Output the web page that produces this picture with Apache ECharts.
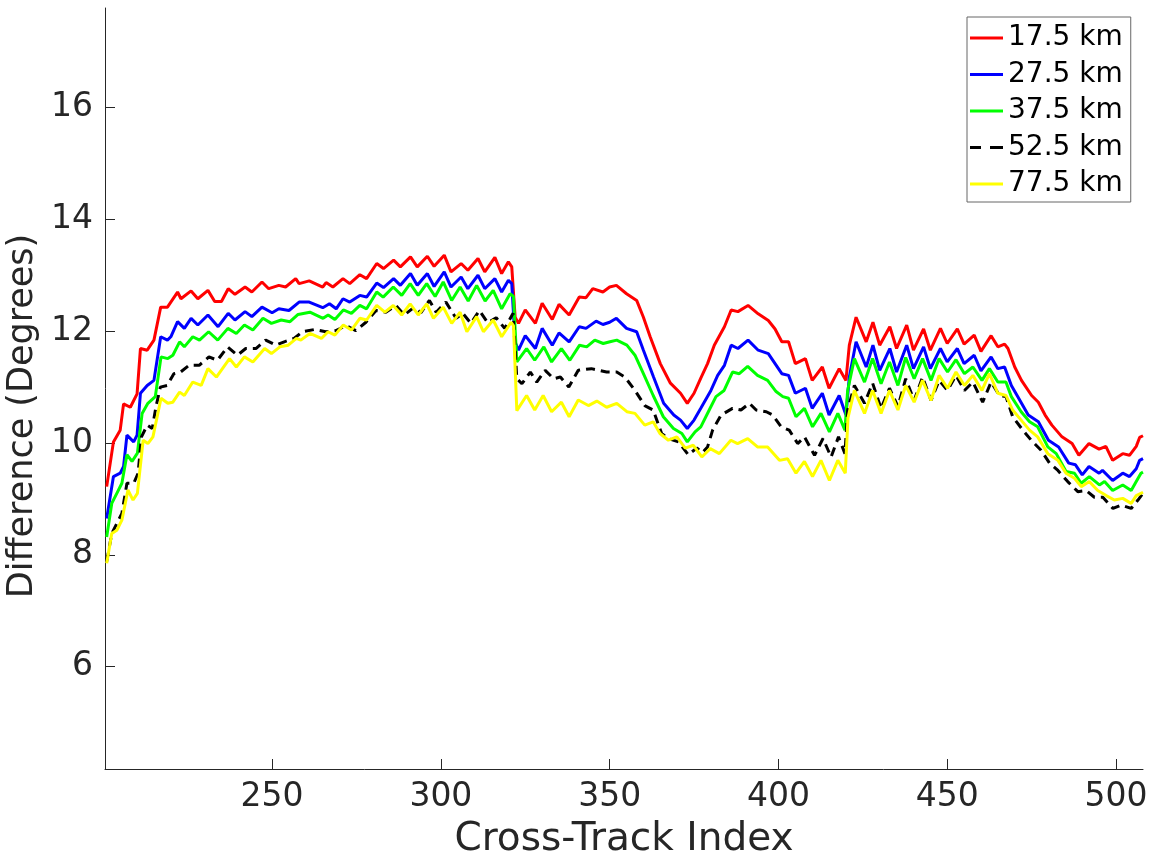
<!DOCTYPE html>
<html><head><meta charset="utf-8">
<script src="https://cdn.jsdelivr.net/npm/echarts@6/dist/echarts.min.js"></script>
<style>html,body{margin:0;padding:0;background:#fff}#c{width:1149px;height:858px}</style>
</head><body><div id="c"></div>
<script>
const seriesNames = ['17.5 km','27.5 km','37.5 km','52.5 km','77.5 km'];
const xTicks = [250,300,350,400,450,500];
const yTicks = [6,8,10,12,14,16];

const km17_5 = [[201,9.22],[203,10.02],[205,10.23],[206,10.70],[208,10.64],[210,10.88],[211,11.69],[213,11.66],[215,11.84],[217,12.43],[219,12.43],[220,12.52],[222,12.70],[223,12.58],[226,12.72],[228,12.58],[231,12.73],[233,12.53],[235,12.53],[237,12.76],[239,12.66],[242,12.79],[244,12.70],[247,12.88],[249,12.76],[252,12.82],[254,12.79],[257,12.94],[258,12.85],[261,12.90],[265,12.79],[266,12.87],[268,12.79],[271,12.94],[273,12.85],[276,13.01],[278,12.94],[281,13.21],[283,13.12],[286,13.27],[288,13.15],[291,13.33],[293,13.15],[296,13.34],[298,13.16],[301,13.36],[303,13.06],[306,13.21],[308,13.09],[311,13.30],[313,13.06],[316,13.32],[318,13.03],[320,13.24],[321,13.15],[322,12.25],[323,12.14],[325,12.38],[328,12.14],[330,12.50],[333,12.21],[335,12.48],[338,12.29],[341,12.61],[343,12.60],[345,12.76],[348,12.70],[350,12.79],[352,12.82],[355,12.67],[358,12.55],[360,12.25],[362,11.90],[365,11.42],[368,11.07],[371,10.89],[373,10.71],[375,10.89],[377,11.16],[379,11.42],[381,11.75],[384,12.08],[386,12.38],[388,12.35],[391,12.46],[394,12.31],[397,12.19],[399,12.04],[401,11.81],[403,11.81],[405,11.42],[408,11.51],[410,11.12],[413,11.36],[415,10.98],[418,11.33],[420,11.12],[421,11.75],[423,12.25],[426,11.81],[428,12.16],[430,11.75],[433,12.08],[435,11.69],[438,12.11],[440,11.66],[443,12.04],[445,11.66],[448,12.05],[450,11.78],[453,12.04],[455,11.77],[458,11.93],[460,11.64],[463,11.92],[465,11.72],[467,11.77],[468,11.69],[470,11.36],[472,11.12],[475,10.85],[477,10.73],[479,10.50],[481,10.32],[484,10.11],[487,9.99],[489,9.78],[492,9.99],[495,9.89],[497,9.94],[499,9.69],[502,9.81],[504,9.78],[506,9.94],[507,10.10],[508,10.13]];

const km27_5 = [[201,8.65],[203,9.40],[205,9.46],[206,9.58],[207,10.14],[209,10.02],[210,10.14],[211,10.89],[213,11.03],[215,11.12],[217,11.90],[219,11.84],[220,11.90],[222,12.17],[224,12.05],[226,12.23],[228,12.11],[231,12.29],[234,12.08],[237,12.32],[239,12.20],[242,12.35],[244,12.26],[247,12.43],[250,12.33],[252,12.40],[255,12.37],[258,12.52],[261,12.52],[265,12.42],[267,12.49],[269,12.40],[271,12.58],[273,12.52],[276,12.64],[278,12.61],[281,12.86],[283,12.78],[286,12.94],[288,12.82],[291,13.03],[293,12.82],[296,13.03],[298,12.80],[301,13.06],[303,12.79],[306,12.97],[308,12.76],[311,13.00],[313,12.76],[316,12.94],[318,12.70],[320,12.91],[321,12.85],[322,11.80],[323,11.66],[325,11.92],[328,11.69],[330,12.05],[333,11.75],[335,11.97],[338,11.81],[341,12.08],[343,12.05],[346,12.18],[348,12.12],[350,12.16],[352,12.23],[355,12.05],[358,11.99],[360,11.66],[363,11.18],[366,10.71],[369,10.50],[371,10.41],[373,10.26],[375,10.41],[377,10.62],[380,10.94],[382,11.21],[384,11.39],[386,11.75],[388,11.69],[391,11.84],[394,11.66],[397,11.60],[399,11.42],[401,11.24],[403,11.21],[405,10.89],[408,10.98],[410,10.62],[413,10.89],[415,10.50],[418,10.85],[420,10.50],[421,11.18],[423,11.81],[426,11.36],[428,11.75],[430,11.30],[433,11.69],[435,11.27],[438,11.75],[440,11.33],[443,11.72],[445,11.33],[448,11.69],[450,11.45],[453,11.69],[455,11.42],[458,11.57],[460,11.29],[463,11.54],[465,11.33],[467,11.36],[469,11.03],[471,10.82],[474,10.50],[477,10.38],[480,10.05],[483,9.93],[486,9.64],[488,9.61],[490,9.43],[492,9.58],[495,9.46],[496,9.51],[499,9.33],[502,9.46],[504,9.40],[506,9.54],[507,9.69],[508,9.72]];

const km37_5 = [[201,8.32],[202.5,8.92],[204,9.10],[205.5,9.28],[207,9.79],[208.5,9.67],[210.1,9.82],[211.5,10.53],[213.2,10.71],[215.4,10.83],[217.1,11.54],[219.1,11.51],[220.6,11.57],[222.6,11.81],[224,11.72],[226.5,11.90],[228.5,11.84],[231.2,11.99],[233.9,11.84],[236.9,12.05],[239.4,11.96],[241.8,12.11],[244.3,12.02],[247.3,12.23],[249.8,12.14],[252.7,12.20],[255.3,12.17],[257.7,12.30],[261.2,12.34],[265.1,12.23],[266.6,12.29],[268.6,12.21],[271.1,12.38],[273.5,12.32],[276,12.46],[278,12.40],[281,12.70],[282.9,12.61],[285.9,12.79],[288.4,12.64],[290.9,12.85],[293.3,12.64],[295.8,12.85],[298.3,12.62],[300.7,12.88],[303.2,12.55],[305.7,12.79],[308.1,12.54],[310.6,12.82],[313.1,12.54],[315.5,12.73],[318,12.40],[320.5,12.67],[321.5,12.62],[322.5,11.45],[325.4,11.69],[327.8,11.48],[330.5,11.72],[332.8,11.45],[335.7,11.69],[338.2,11.48],[341.1,11.75],[343.2,11.72],[345.6,11.84],[348.1,11.78],[350.1,11.81],[352.1,11.84],[355.1,11.75],[357.5,11.57],[360,11.24],[362.9,10.85],[365.9,10.47],[368.9,10.26],[371.4,10.17],[373,10.02],[375.3,10.20],[377,10.29],[379.5,10.59],[381.5,10.83],[383.9,10.94],[386.4,11.27],[388.4,11.24],[390.9,11.37],[393.8,11.21],[396.8,11.12],[399.3,10.92],[401.3,10.83],[403,10.80],[405.2,10.47],[407.7,10.62],[410.1,10.29],[412.6,10.53],[415.1,10.20],[417.6,10.53],[419.7,10.23],[420.5,10.94],[422.5,11.51],[425.5,11.09],[427.9,11.51],[430.4,11.06],[432.9,11.45],[435.4,11.03],[437.7,11.53],[440.2,11.15],[442.7,11.51],[445.2,11.12],[447.6,11.51],[450.1,11.27],[452.6,11.49],[455.1,11.24],[457.6,11.36],[460.3,11.12],[462.5,11.33],[465,11.09],[467.4,11.09],[469,10.83],[471.9,10.56],[474.4,10.38],[476.8,10.29],[479.8,9.93],[482.3,9.81],[485.2,9.49],[487.7,9.46],[489.7,9.28],[492.1,9.40],[495.1,9.25],[496.6,9.31],[499,9.15],[502,9.25],[504.5,9.15],[506,9.31],[507.4,9.46],[508,9.48]];

const km52_5 = [[201,7.88],[202.5,8.38],[204,8.56],[205.5,8.74],[207,9.28],[209,9.28],[210.3,9.46],[211.3,10.11],[213,10.32],[214.5,10.26],[215.6,10.65],[216.9,11.00],[218.9,11.03],[220.9,11.24],[222.9,11.27],[225.4,11.39],[228.4,11.39],[231.3,11.54],[233.8,11.48],[236.8,11.72],[239.7,11.57],[242.2,11.69],[245.2,11.69],[248.1,11.84],[251.1,11.75],[253.6,11.81],[256.5,11.87],[259,11.99],[262.5,12.03],[265.9,11.99],[268.9,12.01],[271.9,12.10],[274.8,12.01],[277.8,12.16],[280.8,12.37],[283.7,12.34],[286.7,12.46],[289.2,12.29],[292.1,12.43],[294.1,12.33],[296.6,12.55],[298.6,12.34],[301.5,12.52],[304.5,12.23],[306.5,12.32],[308.9,12.14],[311.4,12.37],[313.9,12.15],[316.4,12.24],[318.9,12.05],[321.4,12.32],[322.5,11.15],[324,11.06],[326.5,11.27],[328.4,11.09],[330.9,11.30],[333.4,11.15],[335.4,11.18],[337.9,11.00],[340.7,11.30],[344.6,11.33],[349.1,11.27],[352.1,11.27],[354.5,11.18],[357.5,10.94],[360.4,10.67],[362.9,10.59],[365.4,10.17],[367.4,10.08],[370.4,10.02],[373.3,9.79],[375.8,9.91],[377.5,9.83],[379,9.93],[380.5,10.23],[383,10.50],[386.4,10.62],[388.9,10.59],[391.4,10.71],[393.4,10.59],[396.4,10.56],[398.3,10.50],[400.8,10.29],[403.2,10.23],[405.7,9.99],[407.7,10.11],[410.7,9.78],[413.2,10.08],[415.6,9.75],[417.8,10.11],[419.7,9.81],[420.5,10.59],[422.5,11.03],[425.5,10.71],[427.9,11.07],[430.4,10.62],[432.9,10.98],[435.4,10.65],[437.7,11.15],[440.2,10.76],[442.7,11.18],[445.2,10.76],[447.6,11.12],[450.1,10.94],[452.6,11.21],[455.1,10.94],[457.6,11.09],[460.5,10.73],[463,11.09],[465.5,10.85],[467.4,10.83],[469.4,10.47],[472.4,10.23],[474.9,10.05],[477.8,9.87],[480.3,9.64],[482.8,9.51],[485.7,9.31],[488.7,9.13],[491.2,9.15],[493.6,9.03],[496.1,9.03],[499.1,8.83],[501.5,8.89],[504.5,8.83],[506.5,8.98],[508,9.10]];

const km77_5 = [[201,7.85],[202.5,8.38],[204,8.44],[205.5,8.62],[207.3,9.16],[208.8,8.98],[210.1,9.10],[211.8,10.05],[213.2,9.99],[214.7,10.11],[217.1,10.80],[219.1,10.71],[220.6,10.73],[222.6,10.91],[224,10.85],[226.5,11.09],[229,11.03],[231,11.33],[233.5,11.18],[237.4,11.51],[239.4,11.36],[241.8,11.54],[244.3,11.45],[247.8,11.69],[249.8,11.60],[252.3,11.72],[254.8,11.75],[257.2,11.87],[258.5,11.84],[261.2,11.96],[264.6,11.87],[266.6,11.99],[268.6,11.93],[271.1,12.11],[273.5,12.02],[276,12.23],[278,12.20],[281,12.46],[283.4,12.34],[285.9,12.46],[288.4,12.29],[290.9,12.49],[293.3,12.29],[295.8,12.49],[297.8,12.23],[300.7,12.43],[303.2,12.14],[305.7,12.34],[307.7,11.99],[310.6,12.26],[312.6,11.99],[315.5,12.20],[318,11.90],[320.8,12.16],[321.5,12.10],[322.5,10.58],[325.4,10.85],[327.8,10.59],[330.3,10.85],[332.8,10.56],[335.7,10.73],[338,10.47],[340.7,10.77],[343.7,10.67],[346.2,10.75],[349.1,10.64],[352.1,10.71],[355.1,10.56],[357.5,10.53],[360.4,10.32],[362.9,10.38],[364.9,10.17],[367.4,10.05],[369.9,10.11],[372.4,9.91],[374.8,9.96],[377.3,9.75],[379.8,9.90],[382.5,9.81],[385.9,10.05],[387.9,9.99],[390.9,10.08],[393.8,9.93],[396.8,9.93],[400.3,9.69],[402.7,9.72],[405.2,9.46],[407.7,9.67],[410.1,9.40],[412.6,9.69],[415.1,9.33],[417.6,9.69],[419.8,9.46],[420.6,10.45],[422.5,10.94],[425.5,10.53],[427.9,10.94],[430.4,10.53],[432.9,10.94],[435.4,10.59],[437.7,11.03],[440.2,10.73],[442.7,11.12],[445.2,10.76],[447.6,11.21],[450.1,10.98],[452.6,11.27],[455.1,11.03],[457.6,11.21],[460.3,10.94],[462.5,11.24],[465,10.89],[467.4,10.85],[469.4,10.59],[471.9,10.41],[474.4,10.23],[476.8,10.11],[479.8,9.81],[482.8,9.69],[485.2,9.46],[487.7,9.37],[489.7,9.22],[492.1,9.31],[494.6,9.15],[497.1,9.06],[499.5,8.98],[502,9.01],[504.5,8.92],[506,9.06],[508,9.12]];

const seriesData = [km17_5, km27_5, km37_5, km52_5, km77_5];
const seriesColors = ['#ff0000','#0000ff','#00ff00','#000000','#ffff00'];
const seriesDash = ['solid','solid','solid',[9,6],'solid'];
const legendIcons = ['rect','rect','rect','path://M0,0h11v3h-11zM20,0h13v3h-13z','rect'];

const font = 'DejaVu Sans';
const axisColor = '#262626';
const chart = echarts.init(document.getElementById('c'), null, {renderer:'canvas'});

const option = {
  animation: false,
  backgroundColor: '#ffffff',
  grid: {left:105, right:6, top:8, bottom:89, containLabel:false, outerBoundsMode:'none'},
  xAxis: {
    type:'value', min:200.5, max:508,
    name:'Cross-Track Index', nameLocation:'middle', nameGap:51,
    nameTextStyle:{fontFamily:font, fontSize:39, color:axisColor},
    axisLine:{show:true, onZero:false, lineStyle:{color:axisColor, width:1}},
    axisTick:{show:true, inside:true, length:10, customValues:xTicks, lineStyle:{color:axisColor, width:1}},
    axisLabel:{customValues:xTicks, fontFamily:font, fontSize:33, color:axisColor, margin:12},
    splitLine:{show:false}
  },
  yAxis: {
    type:'value', min:4.17, max:17.78,
    name:'Difference (Degrees)', nameLocation:'middle', nameGap:47,
    nameTextStyle:{fontFamily:font, fontSize:35, color:axisColor, padding:[0,55,0,0]},
    axisLine:{show:true, onZero:false, lineStyle:{color:axisColor, width:1}},
    axisTick:{show:true, inside:true, length:10, customValues:yTicks, lineStyle:{color:axisColor, width:1}},
    axisLabel:{customValues:yTicks, fontFamily:font, fontSize:33, color:axisColor, margin:12},
    splitLine:{show:false}
  },
  legend: {
    orient:'vertical', left:967, top:17,
    padding:[7,8,4,3], itemWidth:33, itemHeight:3, itemGap:8.5,
    borderColor:'#666666', borderWidth:1, backgroundColor:'#ffffff',
    textStyle:{fontFamily:font, fontSize:28, color:'#000000', lineHeight:28},
    data: seriesNames.map((n,i)=>({name:n, icon:legendIcons[i], itemStyle:{color:seriesColors[i], borderWidth:0}}))
  },
  series: seriesNames.map((n,i)=>({
    name:n, type:'line', data:seriesData[i], symbol:'none', showSymbol:false,
    smooth:false, clip:true,
    lineStyle:{color:seriesColors[i], width:3, type:seriesDash[i]},
    itemStyle:{color:seriesColors[i]}
  }))
};
chart.setOption(option);
</script></body></html>
